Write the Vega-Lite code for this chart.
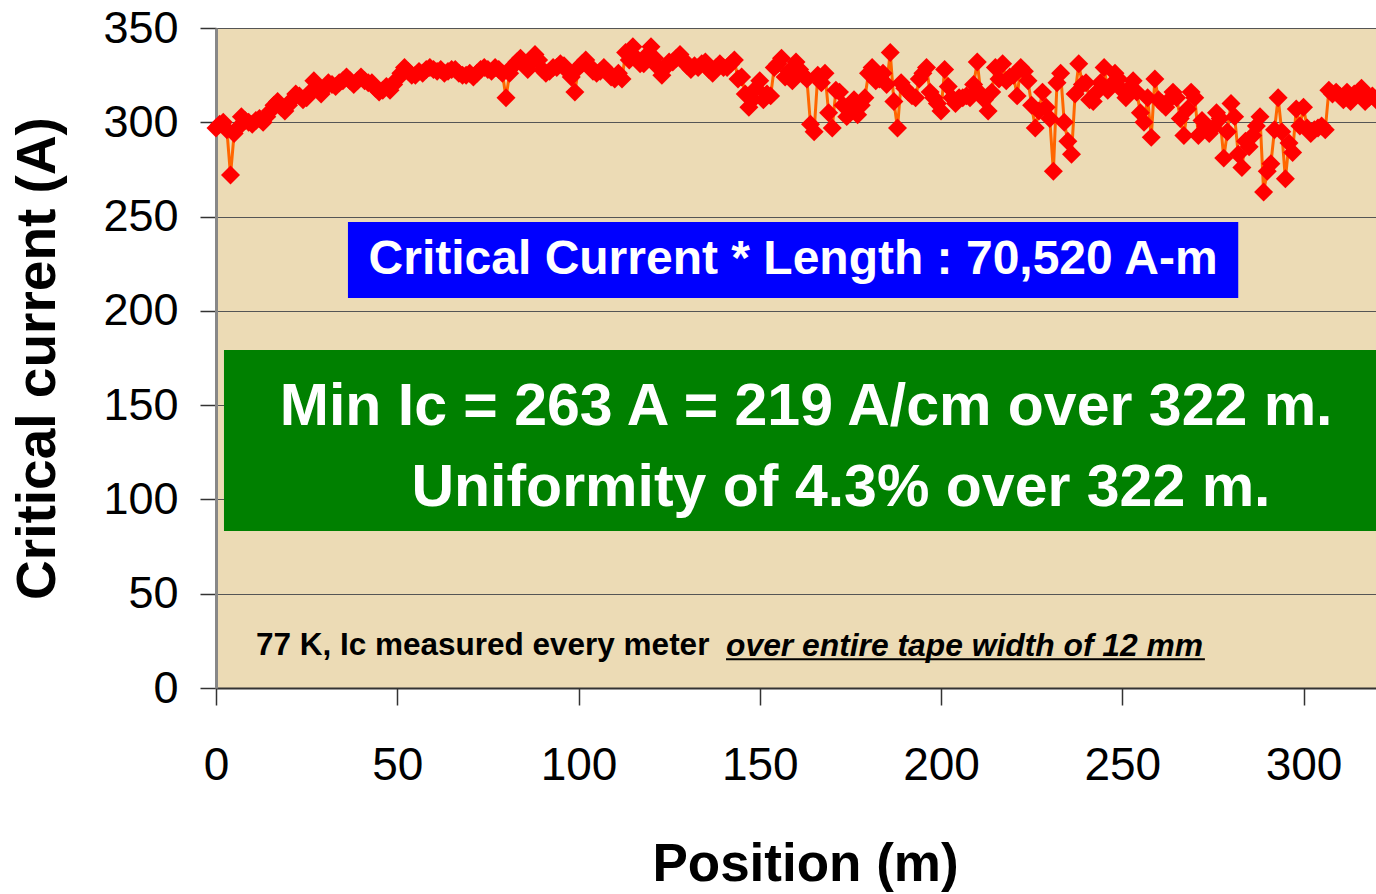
{
"$schema": "https://vega.github.io/schema/vega-lite/v6.json",
"width": 1160, "height": 660,
"autosize": {"type": "none"},
"padding": {"left": 216, "top": 28, "right": 0, "bottom": 206},
"background": "white",
"config": {"font": "Liberation Sans", "view": {"fill": "#ECDBB5", "stroke": null}},
"datasets": {"ic": [
{"pos":0,"ic":297},{"pos":1,"ic":299},{"pos":2,"ic":300},{"pos":3,"ic":296},{"pos":4,"ic":272},{"pos":5,"ic":294},{"pos":6,"ic":297},{"pos":7,"ic":303},{"pos":8,"ic":301},{"pos":9,"ic":300},
{"pos":10,"ic":299},{"pos":11,"ic":301},{"pos":12,"ic":302},{"pos":13,"ic":300},{"pos":14,"ic":303},{"pos":15,"ic":306},{"pos":16,"ic":309},{"pos":17,"ic":311},{"pos":18,"ic":308},{"pos":19,"ic":306},
{"pos":20,"ic":309},{"pos":21,"ic":312},{"pos":22,"ic":315},{"pos":23,"ic":314},{"pos":24,"ic":312},{"pos":25,"ic":313},{"pos":26,"ic":316},{"pos":27,"ic":322},{"pos":28,"ic":319},{"pos":29,"ic":315},
{"pos":30,"ic":318},{"pos":31,"ic":321},{"pos":32,"ic":320},{"pos":33,"ic":319},{"pos":34,"ic":321},{"pos":35,"ic":322},{"pos":36,"ic":324},{"pos":37,"ic":322},{"pos":38,"ic":320},{"pos":39,"ic":322},
{"pos":40,"ic":324},{"pos":41,"ic":322},{"pos":42,"ic":321},{"pos":43,"ic":321},{"pos":44,"ic":318},{"pos":45,"ic":316},{"pos":46,"ic":317},{"pos":47,"ic":319},{"pos":48,"ic":317},{"pos":49,"ic":320},
{"pos":50,"ic":323},{"pos":51,"ic":326},{"pos":52,"ic":329},{"pos":53,"ic":327},{"pos":54,"ic":325},{"pos":55,"ic":325},{"pos":56,"ic":327},{"pos":57,"ic":326},{"pos":58,"ic":328},{"pos":59,"ic":329},
{"pos":60,"ic":328},{"pos":61,"ic":327},{"pos":62,"ic":328},{"pos":63,"ic":326},{"pos":64,"ic":327},{"pos":65,"ic":328},{"pos":66,"ic":328},{"pos":67,"ic":326},{"pos":68,"ic":325},{"pos":69,"ic":325},
{"pos":70,"ic":326},{"pos":71,"ic":324},{"pos":72,"ic":326},{"pos":73,"ic":328},{"pos":74,"ic":329},{"pos":75,"ic":328},{"pos":76,"ic":327},{"pos":77,"ic":329},{"pos":78,"ic":328},{"pos":79,"ic":326},
{"pos":80,"ic":313},{"pos":81,"ic":326},{"pos":82,"ic":330},{"pos":83,"ic":332},{"pos":84,"ic":334},{"pos":85,"ic":331},{"pos":86,"ic":328},{"pos":87,"ic":332},{"pos":88,"ic":336},{"pos":89,"ic":333},
{"pos":90,"ic":328},{"pos":91,"ic":326},{"pos":92,"ic":327},{"pos":93,"ic":329},{"pos":94,"ic":329},{"pos":95,"ic":331},{"pos":96,"ic":330},{"pos":97,"ic":327},{"pos":98,"ic":324},{"pos":99,"ic":316},
{"pos":100,"ic":329},{"pos":101,"ic":331},{"pos":102,"ic":333},{"pos":103,"ic":330},{"pos":104,"ic":327},{"pos":105,"ic":326},{"pos":106,"ic":327},{"pos":107,"ic":329},{"pos":108,"ic":327},{"pos":109,"ic":324},
{"pos":110,"ic":323},{"pos":111,"ic":326},{"pos":112,"ic":323},{"pos":113,"ic":337},{"pos":114,"ic":333},{"pos":115,"ic":340},{"pos":116,"ic":334},{"pos":117,"ic":331},{"pos":118,"ic":331},{"pos":119,"ic":336},
{"pos":120,"ic":340},{"pos":121,"ic":334},{"pos":122,"ic":329},{"pos":123,"ic":325},{"pos":124,"ic":329},{"pos":125,"ic":332},{"pos":126,"ic":332},{"pos":127,"ic":334},{"pos":128,"ic":336},{"pos":129,"ic":333},
{"pos":130,"ic":330},{"pos":131,"ic":328},{"pos":132,"ic":330},{"pos":133,"ic":329},{"pos":134,"ic":331},{"pos":135,"ic":332},{"pos":136,"ic":328},{"pos":137,"ic":326},{"pos":138,"ic":329},{"pos":139,"ic":331},
{"pos":140,"ic":329},{"pos":141,"ic":329},{"pos":142,"ic":331},{"pos":143,"ic":333},{"pos":144,"ic":323},{"pos":145,"ic":324},{"pos":146,"ic":315},{"pos":147,"ic":308},{"pos":148,"ic":312},{"pos":149,"ic":318},
{"pos":150,"ic":322},{"pos":151,"ic":312},{"pos":152,"ic":315},{"pos":153,"ic":314},{"pos":154,"ic":329},{"pos":155,"ic":331},{"pos":156,"ic":334},{"pos":157,"ic":324},{"pos":158,"ic":327},{"pos":159,"ic":322},
{"pos":160,"ic":332},{"pos":161,"ic":328},{"pos":162,"ic":325},{"pos":163,"ic":323},{"pos":164,"ic":299},{"pos":165,"ic":295},{"pos":166,"ic":325},{"pos":167,"ic":321},{"pos":168,"ic":326},{"pos":169,"ic":305},
{"pos":170,"ic":297},{"pos":171,"ic":317},{"pos":172,"ic":316},{"pos":173,"ic":309},{"pos":174,"ic":303},{"pos":175,"ic":307},{"pos":176,"ic":312},{"pos":177,"ic":304},{"pos":178,"ic":309},{"pos":179,"ic":313},
{"pos":180,"ic":326},{"pos":181,"ic":329},{"pos":182,"ic":322},{"pos":183,"ic":323},{"pos":184,"ic":326},{"pos":185,"ic":320},{"pos":186,"ic":337},{"pos":187,"ic":311},{"pos":188,"ic":297},{"pos":189,"ic":321},
{"pos":190,"ic":318},{"pos":191,"ic":316},{"pos":192,"ic":314},{"pos":193,"ic":313},{"pos":194,"ic":323},{"pos":195,"ic":326},{"pos":196,"ic":329},{"pos":197,"ic":316},{"pos":198,"ic":313},{"pos":199,"ic":310},
{"pos":200,"ic":306},{"pos":201,"ic":328},{"pos":202,"ic":319},{"pos":203,"ic":313},{"pos":204,"ic":310},{"pos":205,"ic":313},{"pos":206,"ic":313},{"pos":207,"ic":314},{"pos":208,"ic":313},{"pos":209,"ic":320},
{"pos":210,"ic":332},{"pos":211,"ic":315},{"pos":212,"ic":312},{"pos":213,"ic":306},{"pos":214,"ic":316},{"pos":215,"ic":329},{"pos":216,"ic":323},{"pos":217,"ic":331},{"pos":218,"ic":322},{"pos":219,"ic":324},
{"pos":220,"ic":325},{"pos":221,"ic":314},{"pos":222,"ic":329},{"pos":223,"ic":327},{"pos":224,"ic":322},{"pos":225,"ic":309},{"pos":226,"ic":297},{"pos":227,"ic":306},{"pos":228,"ic":316},{"pos":229,"ic":308},
{"pos":230,"ic":302},{"pos":231,"ic":274},{"pos":232,"ic":321},{"pos":233,"ic":326},{"pos":234,"ic":300},{"pos":235,"ic":290},{"pos":236,"ic":283},{"pos":237,"ic":315},{"pos":238,"ic":331},{"pos":239,"ic":320},
{"pos":240,"ic":321},{"pos":241,"ic":312},{"pos":242,"ic":311},{"pos":243,"ic":316},{"pos":244,"ic":321},{"pos":245,"ic":329},{"pos":246,"ic":317},{"pos":247,"ic":320},{"pos":248,"ic":326},{"pos":249,"ic":323},
{"pos":250,"ic":317},{"pos":251,"ic":313},{"pos":252,"ic":318},{"pos":253,"ic":322},{"pos":254,"ic":316},{"pos":255,"ic":305},{"pos":256,"ic":300},{"pos":257,"ic":313},{"pos":258,"ic":292},{"pos":259,"ic":323},
{"pos":260,"ic":312},{"pos":261,"ic":310},{"pos":262,"ic":308},{"pos":263,"ic":312},{"pos":264,"ic":316},{"pos":265,"ic":313},{"pos":266,"ic":302},{"pos":267,"ic":293},{"pos":268,"ic":307},{"pos":269,"ic":316},
{"pos":270,"ic":313},{"pos":271,"ic":293},{"pos":272,"ic":301},{"pos":273,"ic":298},{"pos":274,"ic":294},{"pos":275,"ic":297},{"pos":276,"ic":305},{"pos":277,"ic":302},{"pos":278,"ic":281},{"pos":279,"ic":295},
{"pos":280,"ic":310},{"pos":281,"ic":303},{"pos":282,"ic":283},{"pos":283,"ic":276},{"pos":284,"ic":290},{"pos":285,"ic":287},{"pos":286,"ic":293},{"pos":287,"ic":298},{"pos":288,"ic":303},{"pos":289,"ic":263},
{"pos":290,"ic":274},{"pos":291,"ic":278},{"pos":292,"ic":296},{"pos":293,"ic":313},{"pos":294,"ic":295},{"pos":295,"ic":270},{"pos":296,"ic":289},{"pos":297,"ic":284},{"pos":298,"ic":307},{"pos":299,"ic":298},
{"pos":300,"ic":308},{"pos":301,"ic":297},{"pos":302,"ic":294},{"pos":303,"ic":296},{"pos":304,"ic":297},{"pos":305,"ic":298},{"pos":306,"ic":296},{"pos":307,"ic":317},{"pos":308,"ic":315},{"pos":309,"ic":316},
{"pos":310,"ic":314},{"pos":311,"ic":312},{"pos":312,"ic":316},{"pos":313,"ic":311},{"pos":314,"ic":315},{"pos":315,"ic":316},{"pos":316,"ic":318},{"pos":317,"ic":311},{"pos":318,"ic":313},{"pos":319,"ic":314},
{"pos":320,"ic":312}
]},
"layer": [
{"data": {"name": "ic"},
 "mark": {"type": "line", "color": "#FF6600", "strokeWidth": 3},
 "encoding": {
  "x": {"field": "pos", "type": "quantitative", "scale": {"domain": [0, 320], "nice": false, "zero": false},
    "axis": {"values": [0,50,100,150,200,250,300], "grid": false, "tickSize": 17, "tickColor": "#333", "tickWidth": 1.5,
      "domainColor": "#333", "domainWidth": 2, "labelFontSize": 46,
      "labelColor": "black", "labelPadding": 38, "labelFlush": false,
      "title": "Position (m)", "titleFontSize": 53, "titleFontWeight": "bold", "titleX": 589,
      "titleColor": "black", "titlePadding": 50}},
  "y": {"field": "ic", "type": "quantitative", "scale": {"domain": [0, 350], "nice": false},
    "axis": {"values": [0,50,100,150,200,250,300,350], "grid": true, "gridColor": "#555", "gridWidth": 1,
      "tickSize": 16, "tickColor": "#333", "tickWidth": 1.5, "domainColor": "#888", "domainWidth": 3,
      "labelFontSize": 45, "labelColor": "black", "labelPadding": 22, "title": "Critical current (A)",
      "titleFontSize": 55, "titleFontWeight": "bold", "titleColor": "black", "titlePadding": 36}}
 }},
{"data": {"name": "ic"},
 "mark": {"type": "point", "shape": "diamond", "filled": true, "color": "#FF0000", "size": 360, "opacity": 1},
 "encoding": {"x": {"field": "pos", "type": "quantitative"}, "y": {"field": "ic", "type": "quantitative"}}},
{"data": {"values": [{"label": "Critical Current * Length : 70,520 A-m"}]},
 "mark": {"type": "rect", "color": "#0000FF", "opacity": 1},
 "encoding": {"x": {"datum": 36.4, "type": "quantitative"}, "x2": {"datum": 282},
   "y": {"datum": 206.8, "type": "quantitative"}, "y2": {"datum": 247.1}}},
{"data": {"values": [{"label": "Critical Current * Length : 70,520 A-m"}]},
 "mark": {"type": "text", "color": "white", "fontSize": 48, "fontWeight": "bold", "align": "center", "baseline": "middle"},
 "encoding": {"x": {"datum": 159.2, "type": "quantitative"}, "y": {"datum": 227, "type": "quantitative"},
   "text": {"field": "label"}}},
{"data": {"values": [{"label": "green"}]},
 "mark": {"type": "rect", "color": "#008000", "opacity": 1},
 "encoding": {"x": {"datum": 2.2, "type": "quantitative"}, "x2": {"datum": 320},
   "y": {"datum": 83.3, "type": "quantitative"}, "y2": {"datum": 179.2}}},
{"data": {"values": [{"label": "Min Ic = 263 A = 219 A/cm over 322 m."}]},
 "mark": {"type": "text", "color": "white", "fontSize": 59, "fontWeight": "bold", "align": "center", "baseline": "middle"},
 "encoding": {"x": {"datum": 162.8, "type": "quantitative"}, "y": {"datum": 149, "type": "quantitative"},
   "text": {"field": "label"}}},
{"data": {"values": [{"label": "Uniformity of 4.3% over 322 m."}]},
 "mark": {"type": "text", "color": "white", "fontSize": 59, "fontWeight": "bold", "align": "center", "baseline": "middle"},
 "encoding": {"x": {"datum": 172.4, "type": "quantitative"}, "y": {"datum": 106, "type": "quantitative"},
   "text": {"field": "label"}}},
{"data": {"values": [{"label": "77 K, Ic measured every meter"}]},
 "mark": {"type": "text", "color": "black", "fontSize": 31.5, "fontWeight": "bold", "align": "left", "baseline": "middle"},
 "encoding": {"x": {"datum": 11, "type": "quantitative"}, "y": {"datum": 22.3, "type": "quantitative"},
   "text": {"field": "label"}}},
{"data": {"values": [{"label": "over entire tape width of 12 mm"}]},
 "mark": {"type": "text", "color": "black", "fontSize": 31.8, "fontWeight": "bold", "fontStyle": "italic", "align": "left", "baseline": "middle"},
 "encoding": {"x": {"datum": 140.7, "type": "quantitative"}, "y": {"datum": 22.3, "type": "quantitative"},
   "text": {"field": "label"}}},
{"data": {"values": [{"label": "underline"}]},
 "mark": {"type": "rule", "color": "black", "strokeWidth": 2},
 "encoding": {"x": {"datum": 140.7, "type": "quantitative"}, "x2": {"datum": 272.8},
   "y": {"datum": 15.2, "type": "quantitative"}}}
]
}
